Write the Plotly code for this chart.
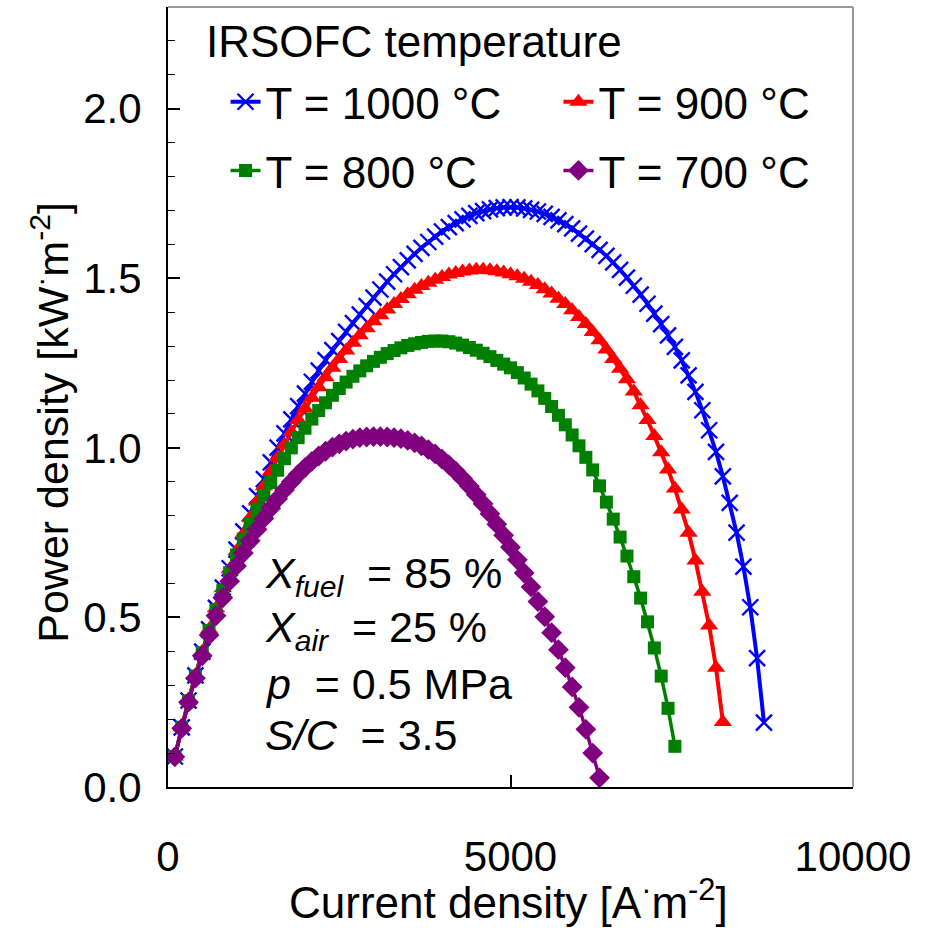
import plotly.graph_objects as go

# ---- data (current density in A/m^2, power density in kW/m^2) ----
i_1000 = [100*k for k in range(1, 88)]
p_1000 = [0.090, 0.176, 0.255, 0.329, 0.399, 0.465, 0.528, 0.588, 0.645, 0.700,
          0.754, 0.807, 0.858, 0.908, 0.957, 1.001, 1.043, 1.084, 1.123, 1.160,
          1.195, 1.228, 1.259, 1.288, 1.315, 1.342, 1.368, 1.393, 1.418, 1.443,
          1.467, 1.490, 1.512, 1.533, 1.553, 1.572, 1.590, 1.607, 1.623, 1.638,
          1.651, 1.663, 1.674, 1.684, 1.692, 1.698, 1.703, 1.707, 1.709, 1.710,
          1.709, 1.706, 1.702, 1.697, 1.690, 1.681, 1.671, 1.660, 1.647, 1.632,
          1.617, 1.601, 1.584, 1.566, 1.547, 1.525, 1.502, 1.478, 1.452, 1.425,
          1.396, 1.365, 1.332, 1.298, 1.258, 1.214, 1.165, 1.111, 1.052, 0.988,
          0.916, 0.838, 0.750, 0.650, 0.530, 0.380, 0.190]

i_900 = [100*k for k in range(1, 82)]
p_900 = [0.090, 0.176, 0.255, 0.329, 0.399, 0.465, 0.527, 0.586, 0.642, 0.695,
         0.746, 0.795, 0.842, 0.887, 0.930, 0.971, 1.010, 1.047, 1.082, 1.116,
         1.148, 1.179, 1.208, 1.236, 1.262, 1.287, 1.310, 1.332, 1.353, 1.373,
         1.391, 1.408, 1.424, 1.439, 1.453, 1.466, 1.477, 1.487, 1.496, 1.504,
         1.511, 1.516, 1.520, 1.523, 1.525, 1.525, 1.524, 1.521, 1.517, 1.512,
         1.506, 1.499, 1.490, 1.480, 1.468, 1.455, 1.440, 1.424, 1.406, 1.386,
         1.365, 1.342, 1.317, 1.290, 1.262, 1.233, 1.202, 1.166, 1.126, 1.082,
         1.035, 0.987, 0.936, 0.880, 0.818, 0.750, 0.668, 0.576, 0.476, 0.352,
         0.192]

i_800 = [100*k for k in range(1, 75)]
p_800 = [0.090, 0.176, 0.254, 0.327, 0.396, 0.461, 0.522, 0.579, 0.632, 0.684,
         0.731, 0.776, 0.819, 0.860, 0.898, 0.934, 0.968, 1.000, 1.030, 1.058,
         1.085, 1.110, 1.133, 1.155, 1.175, 1.194, 1.211, 1.227, 1.242, 1.255,
         1.267, 1.278, 1.287, 1.295, 1.302, 1.307, 1.311, 1.314, 1.315, 1.315,
         1.313, 1.309, 1.303, 1.296, 1.288, 1.279, 1.269, 1.258, 1.247, 1.236,
         1.222, 1.206, 1.188, 1.168, 1.146, 1.122, 1.096, 1.068, 1.038, 1.006,
         0.972, 0.935, 0.888, 0.840, 0.790, 0.737, 0.681, 0.620, 0.557, 0.487,
         0.410, 0.327, 0.232, 0.120]

i_700 = [100*k for k in range(1, 64)]
p_700 = [0.089, 0.173, 0.250, 0.321, 0.387, 0.448, 0.505, 0.558, 0.607, 0.652,
         0.690, 0.726, 0.760, 0.792, 0.822, 0.850, 0.876, 0.900, 0.922, 0.942,
         0.960, 0.976, 0.990, 1.002, 1.012, 1.020, 1.026, 1.030, 1.032, 1.033,
         1.033, 1.032, 1.030, 1.027, 1.022, 1.015, 1.006, 0.995, 0.982, 0.967,
         0.950, 0.931, 0.910, 0.887, 0.862, 0.835, 0.806, 0.775, 0.742, 0.707,
         0.670, 0.631, 0.590, 0.547, 0.502, 0.455, 0.405, 0.352, 0.295, 0.235,
         0.170, 0.100, 0.027]

series_names = ["T = 1000 °C", "T = 900 °C", "T = 800 °C", "T = 700 °C"]
legend_title = "IRSOFC temperature"
param_lines = ["<i>X</i><sub><i>fuel</i></sub>  = 85 %",
               "<i>X</i><sub><i>air</i></sub>  = 25 %",
               "<i>p</i>  = 0.5 MPa",
               "<i>S/C</i>  = 3.5"]
x_ticks = [0, 5000, 10000]
x_ticklabels = ["0", "5000", "10000"]
y_ticks = [0, 0.5, 1.0, 1.5, 2.0]
y_ticklabels = ["0.0", "0.5", "1.0", "1.5", "2.0"]
x_title = "Current density [A<sup>·</sup>m<sup>-2</sup>]"
y_title = "Power density [kW<sup>·</sup>m<sup>-2</sup>]"

FONT = "Liberation Sans, Arial, sans-serif"

fig = go.Figure()

styles = [
    dict(color="#0000FF", symbol="x-thin-open", size=16, lw=4, mlw=2.4, legend="legend"),
    dict(color="#FF0000", symbol="triangle-up", size=16, lw=4, mlw=0, legend="legend2"),
    dict(color="#008000", symbol="square", size=13, lw=3.5, mlw=0, legend="legend3"),
    dict(color="#800080", symbol="diamond", size=16, lw=3.5, mlw=0, legend="legend4"),
]
data = [(i_1000, p_1000), (i_900, p_900), (i_800, p_800), (i_700, p_700)]

for (xs, ys), name, st in zip(data, series_names, styles):
    fig.add_trace(go.Scatter(
        x=xs, y=ys, name=name, mode="lines+markers",
        line=dict(color=st["color"], width=st["lw"]),
        marker=dict(symbol=st["symbol"], size=st["size"], color=st["color"],
                    line=dict(color=st["color"], width=st["mlw"])),
        legend=st["legend"], showlegend=True,
    ))

leg_common = dict(font=dict(family=FONT, size=44, color="black"),
                  bgcolor="rgba(0,0,0,0)", borderwidth=0,
                  xanchor="left", yanchor="middle", itemwidth=30)

fig.update_layout(
    width=925, height=928,
    margin=dict(l=168, r=72, t=7, b=141),
    paper_bgcolor="white", plot_bgcolor="white",
    font=dict(family=FONT, size=41, color="black"),
    legend=dict(x=0.084, y=0.878, **leg_common),
    legend2=dict(x=0.57, y=0.878, **leg_common),
    legend3=dict(x=0.084, y=0.79, **leg_common),
    legend4=dict(x=0.57, y=0.79, **leg_common),
    xaxis=dict(range=[0, 10000], tickvals=x_ticks, ticktext=x_ticklabels,
               ticks="inside", ticklen=12, tickwidth=1.5, tickcolor="black",
               showline=True, linecolor="black", linewidth=2,
               showgrid=False, zeroline=False, automargin=False,
               tickfont=dict(family=FONT, size=42),
               ticklabelstandoff=32),
    yaxis=dict(range=[0, 2.3], tickvals=y_ticks, ticktext=y_ticklabels,
               ticks="inside", ticklen=12, tickwidth=1.5, tickcolor="black",
               minor=dict(dtick=0.1, ticks="inside", ticklen=7, tickcolor="black", tickwidth=1.2),
               showline=True, linecolor="black", linewidth=2,
               showgrid=False, zeroline=False, automargin=False,
               tickfont=dict(family=FONT, size=42),
               ticklabelstandoff=16),
    showlegend=True,
)

# top and right frame lines (grey)
fig.add_shape(type="line", xref="paper", yref="paper", x0=0, x1=1, y0=1, y1=1,
              line=dict(color="#999999", width=2))
fig.add_shape(type="line", xref="paper", yref="paper", x0=1, x1=1, y0=0, y1=1,
              line=dict(color="#999999", width=2))

# legend title
fig.add_annotation(text=legend_title, xref="paper", yref="paper", x=0.052, y=0.956,
                   xanchor="left", yanchor="middle", showarrow=False,
                   font=dict(family=FONT, size=44, color="black"))

# parameter annotations
ys_param = [0.623, 0.462, 0.305, 0.152]
for t, yv in zip(param_lines, ys_param):
    fig.add_annotation(text=t, x=1390, y=yv, xref="x", yref="y",
                       xanchor="left", yanchor="middle", showarrow=False,
                       font=dict(family=FONT, size=43, color="black"))

# axis titles
fig.add_annotation(text=x_title, xref="paper", yref="paper", x=0.497, y=0, yshift=-112,
                   xanchor="center", yanchor="middle", showarrow=False,
                   font=dict(family=FONT, size=44, color="black"))
fig.add_annotation(text=y_title, xref="paper", yref="paper", x=0, xshift=-118, y=0.467,
                   xanchor="center", yanchor="middle", showarrow=False, textangle=-90,
                   font=dict(family=FONT, size=43, color="black"))

fig.write_html("out.html", config={"displayModeBar": False},
               post_script="document.body.style.margin='0px';")
